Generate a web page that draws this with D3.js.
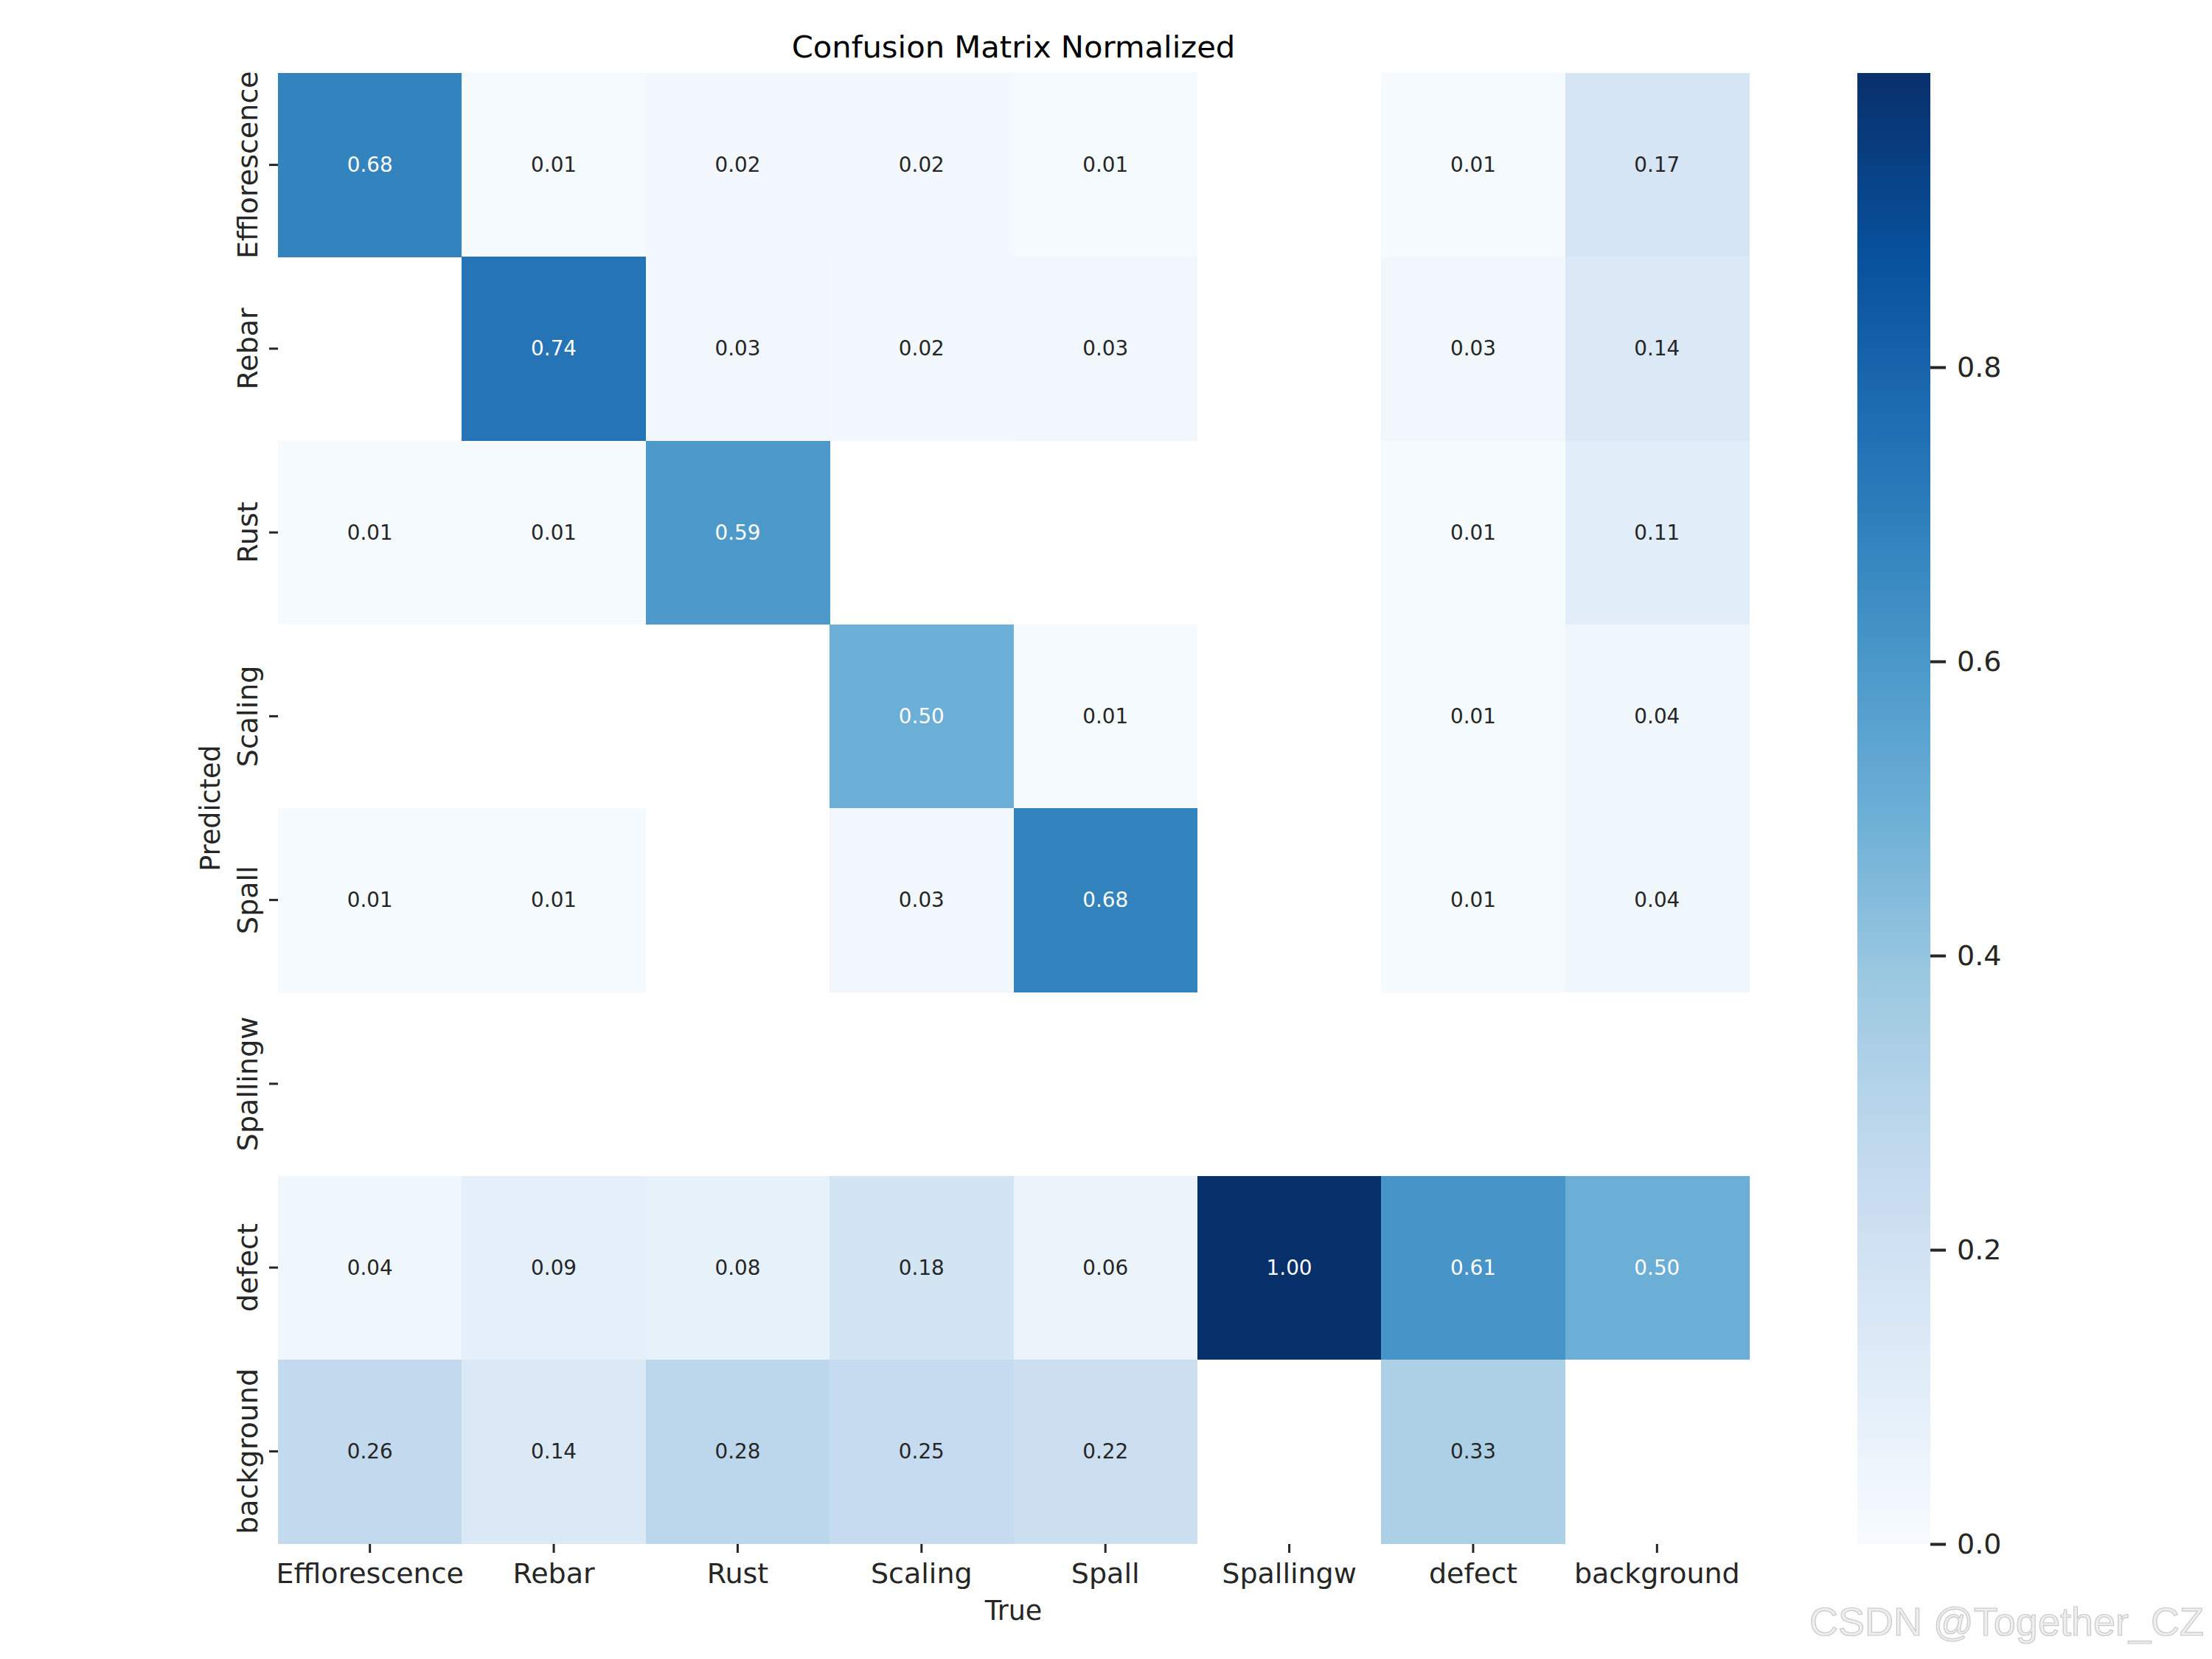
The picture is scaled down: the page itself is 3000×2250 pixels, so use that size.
<!DOCTYPE html>
<html>
<head>
<meta charset="utf-8">
<script src="https://cdn.jsdelivr.net/npm/d3@7"></script>
<style>
  html, body { margin: 0; padding: 0; background: #ffffff; }
  svg { display: block; }
</style>
</head>
<body>
<svg id="chart" width="3000" height="2250"></svg>
<script>
// ---- data ----
const trueLabels = ["Efflorescence", "Rebar", "Rust", "Scaling", "Spall", "Spallingw", "defect", "background"];
const predLabels = ["Efflorescence", "Rebar", "Rust", "Scaling", "Spall", "Spallingw", "defect", "background"];
// rows = predicted, columns = true; null = blank (value < 0.005)
const rowEfflorescence = [0.68, 0.01, 0.02, 0.02, 0.01, null, 0.01, 0.17];
const rowRebar         = [null, 0.74, 0.03, 0.02, 0.03, null, 0.03, 0.14];
const rowRust          = [0.01, 0.01, 0.59, null, null, null, 0.01, 0.11];
const rowScaling       = [null, null, null, 0.50, 0.01, null, 0.01, 0.04];
const rowSpall         = [0.01, 0.01, null, 0.03, 0.68, null, 0.01, 0.04];
const rowSpallingw     = [null, null, null, null, null, null, null, null];
const rowDefect        = [0.04, 0.09, 0.08, 0.18, 0.06, 1.00, 0.61, 0.50];
const rowBackground    = [0.26, 0.14, 0.28, 0.25, 0.22, null, 0.33, null];
const matrix = [rowEfflorescence, rowRebar, rowRust, rowScaling, rowSpall, rowSpallingw, rowDefect, rowBackground];
const colorbarTicks = [0.0, 0.2, 0.4, 0.6, 0.8];
const titleText = "Confusion Matrix Normalized";
const xLabelText = "True";
const yLabelText = "Predicted";
const watermarkText = "CSDN @Together_CZ";

// ---- layout ----
const svg = d3.select("#chart");
const plot = { left: 377, right: 2372, top: 99, bottom: 2093 };
const cbar = { left: 2519, right: 2618, top: 99, bottom: 2094 };
const textColor = "#262626";
const font = "'DejaVu Sans', sans-serif";

// matplotlib "Blues" colormap (linear segmented)
const bluesColors = ["#f7fbff", "#deebf7", "#c6dbef", "#9ecae1", "#6baed6", "#4292c6", "#2171b5", "#08519c", "#08306b"];
const blues = d3.scaleLinear()
  .domain(d3.range(9).map(i => i / 8))
  .range(bluesColors)
  .interpolate(d3.interpolateRgb)
  .clamp(true);
const vmin = 0, vmax = 1.0;
const color = v => blues((v - vmin) / (vmax - vmin));

const x = d3.scaleBand().domain(trueLabels).range([plot.left, plot.right]);
const y = d3.scaleBand().domain(predLabels).range([plot.top, plot.bottom]);

function luminance(c) {
  const rgb = d3.rgb(c);
  const f = u => { u /= 255; return u <= 0.03928 ? u / 12.92 : Math.pow((u + 0.055) / 1.055, 2.4); };
  return 0.2126 * f(rgb.r) + 0.7152 * f(rgb.g) + 0.0722 * f(rgb.b);
}

const cells = [];
matrix.forEach((row, i) => row.forEach((v, j) => {
  if (v !== null) cells.push({ pred: predLabels[i], tru: trueLabels[j], v });
}));

const gCells = svg.append("g");
gCells.selectAll("rect").data(cells).join("rect")
  .attr("x", d => x(d.tru))
  .attr("y", d => y(d.pred))
  .attr("width", x.bandwidth() + 0.6)
  .attr("height", y.bandwidth() + 0.6)
  .attr("fill", d => color(d.v))
  .attr("shape-rendering", "crispEdges");

gCells.selectAll("text").data(cells).join("text")
  .attr("x", d => x(d.tru) + x.bandwidth() / 2)
  .attr("y", d => y(d.pred) + y.bandwidth() / 2)
  .attr("text-anchor", "middle")
  .attr("dominant-baseline", "central")
  .attr("font-family", font)
  .attr("font-size", 27.8)
  .attr("fill", d => luminance(color(d.v)) > 0.408 ? textColor : "#ffffff")
  .text(d => d3.format(".2f")(d.v));

// ---- x axis ----
const xAxis = d3.axisBottom(x).tickSize(12).tickPadding(12);
const gx = svg.append("g").attr("transform", `translate(0,${plot.bottom + 1})`).call(xAxis);
gx.select(".domain").remove();
gx.selectAll(".tick line").attr("stroke", textColor).attr("stroke-width", 3);
gx.selectAll(".tick text")
  .attr("font-family", font).attr("font-size", 38).attr("fill", textColor)
  .attr("dy", null).attr("y", 53);

// ---- y axis ----
const yAxis = d3.axisLeft(y).tickSize(12).tickPadding(16);
const gy = svg.append("g").attr("transform", `translate(${plot.left},0)`).call(yAxis);
gy.select(".domain").remove();
gy.selectAll(".tick line").attr("stroke", textColor).attr("stroke-width", 3);
gy.selectAll(".tick text")
  .attr("font-family", font).attr("font-size", 38).attr("fill", textColor)
  .attr("x", null).attr("dy", null)
  .attr("text-anchor", "middle")
  .attr("transform", "translate(-28,0) rotate(-90)");

// ---- titles ----
svg.append("text")
  .attr("x", (plot.left + plot.right) / 2).attr("y", 78)
  .attr("text-anchor", "middle")
  .attr("font-family", font).attr("font-size", 41.7).attr("fill", "#000000")
  .text(titleText);

svg.append("text")
  .attr("x", (plot.left + plot.right) / 2).attr("y", 2197)
  .attr("text-anchor", "middle")
  .attr("font-family", font).attr("font-size", 36.5).attr("fill", textColor)
  .text(xLabelText);

svg.append("text")
  .attr("transform", `translate(298,${(plot.top + plot.bottom) / 2}) rotate(-90)`)
  .attr("text-anchor", "middle")
  .attr("font-family", font).attr("font-size", 36.5).attr("fill", textColor)
  .text(yLabelText);

// ---- colorbar ----
const defs = svg.append("defs");
const grad = defs.append("linearGradient").attr("id", "cbGrad")
  .attr("x1", "0").attr("y1", "1").attr("x2", "0").attr("y2", "0");
d3.range(0, 1.0001, 1 / 64).forEach(t => {
  grad.append("stop").attr("offset", t).attr("stop-color", blues(t));
});
svg.append("rect")
  .attr("x", cbar.left).attr("y", cbar.top)
  .attr("width", cbar.right - cbar.left).attr("height", cbar.bottom - cbar.top)
  .attr("fill", "url(#cbGrad)");

const cy = d3.scaleLinear().domain([vmin, vmax]).range([cbar.bottom, cbar.top]);
const cAxis = d3.axisRight(cy).tickValues(colorbarTicks).tickFormat(d3.format(".1f")).tickSize(21).tickPadding(15);
const gc = svg.append("g").attr("transform", `translate(${cbar.right},0)`).call(cAxis);
gc.select(".domain").remove();
gc.selectAll(".tick line").attr("stroke", textColor).attr("stroke-width", 4);
gc.selectAll(".tick text")
  .attr("font-family", font).attr("font-size", 38).attr("fill", textColor);

// ---- watermark ----
svg.append("text")
  .attr("x", 2454).attr("y", 2218)
  .attr("font-family", "'Liberation Sans', Arial, sans-serif")
  .attr("font-size", 54)
  .attr("fill", "#eeeeee")
  .attr("stroke", "#c9c9c9")
  .attr("stroke-width", 1.2)
  .text(watermarkText);
</script>
</body>
</html>
